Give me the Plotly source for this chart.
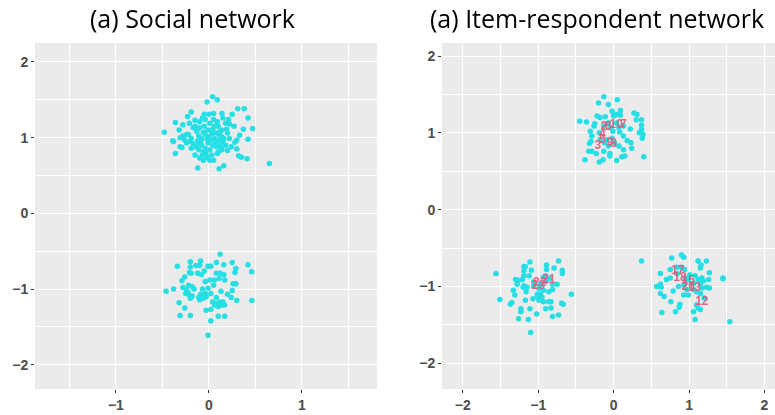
import plotly.graph_objects as go

# ---------------- data ----------------
# (a) Social network: respondent positions
social_x = [0.04, 0.09, -0.02, -0.19, 0.31, 0.38, -0.36, -0.48, -0.39, -0.36, 0.65, -0.12, 0.11, 0.16,
            0.42, 0.47, 0.42, 0.41, 0.35, 0.32, 0.30, 0.28, 0.37, 0.27, 0.22, 0.25, 0.14, 0.05, 0.0, -0.05,
            -0.07, -0.15, -0.23, -0.28, -0.32, -0.21, -0.28, -0.31, -0.31, -0.29, -0.24, -0.22, -0.19, -0.17,
            -0.14, -0.11, -0.15, -0.10, -0.06, -0.03, 0.01, 0.03, -0.04, -0.01, 0.02, 0.06, 0.10, 0.14, 0.12,
            0.08, 0.04, -0.01, -0.05, -0.10, -0.13, -0.11, -0.08, -0.04, 0.01, 0.05, 0.09, 0.18, 0.19, 0.20,
            0.15, 0.18, 0.20, 0.14, 0.10, 0.08, 0.12, -0.09, -0.19, -0.06, -0.03, -0.07, -0.11, 0.21, 0.15,
            -0.04, -0.10, -0.15, 0.06, 0.10, 0.14, -0.20, -0.24, -0.38, 0.22, 0.24, 0.30, 0.04, 0.01, -0.01, 0.05,
            -0.02, 0.07, -0.06, 0.11, 0.00, -0.12, 0.16, 0.03, -0.08, 0.09, -0.17, 0.13, 0.33, -0.26,
            # lower cluster
            0.12, -0.34, -0.20, -0.14, -0.09, -0.10, -0.05, -0.01, 0.02, 0.08, 0.16, 0.25, 0.29, 0.28, 0.42,
            0.46, -0.20, -0.21, -0.19, -0.26, -0.12, -0.08, -0.04, 0.01, 0.08, 0.12, 0.16, 0.11, 0.06, 0.17,
            0.26, 0.29, -0.29, -0.22, -0.18, -0.24, -0.22, -0.25, -0.28, -0.38, -0.46, -0.18, -0.20, -0.11,
            -0.07, -0.09, -0.04, -0.01, 0.02, -0.10, -0.06, -0.03, 0.08, 0.12, 0.15, 0.20, 0.25, 0.24, 0.30,
            0.46, -0.32, -0.26, -0.31, -0.20, -0.03, 0.02, 0.06, 0.10, 0.17, 0.10, 0.17, 0.02, -0.01, 0.08,
            0.04, 0.14, -0.23, -0.16, 0.05, 0.13]
social_y = [1.54, 1.50, 1.47, 1.34, 1.38, 1.38, 1.20, 1.07, 0.96, 0.79, 0.66, 0.60, 0.59, 0.63,
            1.26, 1.12, 0.98, 0.72, 0.74, 0.76, 0.85, 0.94, 1.11, 1.15, 1.18, 1.31, 1.32, 1.32, 1.31, 1.31,
            1.26, 1.23, 1.28, 1.17, 1.10, 1.19, 1.02, 1.00, 0.88, 0.87, 0.93, 1.04, 0.99, 0.92,
            0.88, 0.84, 0.77, 0.73, 0.70, 0.76, 0.70, 0.77, 0.86, 0.93, 0.97, 0.99, 0.97, 1.01, 1.08,
            1.06, 1.11, 1.10, 1.15, 1.13, 1.08, 1.02, 0.99, 1.04, 1.19, 1.24, 1.21, 1.19, 1.11, 1.06,
            0.95, 0.90, 0.83, 0.84, 0.81, 0.88, 0.90, 0.95, 0.86, 0.81, 0.81, 0.77, 0.93, 1.24, 1.26,
            1.24, 1.21, 1.15, 1.15, 1.15, 1.10, 0.95, 1.04, 0.95, 0.99, 0.88, 0.97, 0.90, 0.84, 0.73, 0.70,
            0.98, 0.92, 1.07, 1.04, 1.01, 0.96, 0.99, 1.05, 0.90, 0.79, 1.13, 0.87, 1.03, 0.97,
            # lower cluster
            -0.54, -0.70, -0.64, -0.69, -0.63, -0.69, -0.76, -0.70, -0.70, -0.65, -0.68, -0.65, -0.73, -0.78, -0.68,
            -0.77, -0.71, -0.78, -0.79, -0.84, -0.79, -0.81, -0.90, -0.88, -0.79, -0.79, -0.81, -0.86, -0.88, -0.88,
            -0.93, -0.93, -0.89, -0.95, -0.97, -1.01, -1.07, -1.06, -0.98, -1.00, -1.03, -1.09, -1.12, -1.11,
            -1.00, -1.07, -1.06, -0.99, -1.06, -1.14, -1.12, -1.10, -1.11, -1.17, -1.17, -1.07, -1.02, -1.11, -1.15,
            -1.15, -1.18, -1.25, -1.35, -1.35, -1.28, -1.27, -1.21, -1.23, -1.21, -1.36, -1.36, -1.42, -1.61, -1.19,
            -1.17, -1.21, -1.04, -1.00, -0.95, -1.03]

# (a) Item-respondent network: respondent positions
resp_x = [-0.13, -0.20, -0.07, 0.05, -0.45, -0.36, -0.25, -0.22, -0.18, -0.11, -0.02, 0.0, 0.09, 0.09,
          0.27, 0.31, 0.30, 0.37, 0.37, 0.37, 0.34, 0.39, 0.38, 0.22, -0.31, -0.29, -0.30, -0.32, -0.33,
          -0.29, -0.23, -0.38, -0.19, -0.13, -0.14, -0.05, -0.05, 0.04, 0.11, 0.15, 0.13, 0.24, 0.23, 0.18,
          0.13, 0.08, 0.07, 0.13, 0.04, -0.07, -0.13, -0.19, -0.18, -0.12, -0.09, -0.02, 0.01, 0.07, -0.07,
          0.40, -0.01, -0.04, 0.04, -0.26,
          # left cluster
          -1.56, -1.51, -1.11, -1.19, -1.17, -0.89, -0.73, -0.68, -0.68, -0.79, -0.89, -1.09, -1.19, -1.12,
          -1.19, -1.30, -1.21, -1.28, -1.19, -1.15, -1.20, -1.33, -1.31, -1.16, -1.26, -1.37, -1.35, -1.23,
          -1.23, -1.11, -1.17, -1.07, -1.26, -1.13, -1.02, -0.99, -1.01, -0.95, -0.93, -0.86, -0.83, -0.90,
          -0.83, -0.81, -0.73, -0.69, -0.67, -0.56, -0.75, -0.81, -0.86, -0.93, -0.99, -0.97, -0.90, -0.90,
          -0.85, -0.93, -1.06, -1.06, -0.81, -1.01, -0.97, -1.10,
          # right cluster
          0.37, 0.77, 0.90, 0.93, 1.12, 1.23, 1.16, 1.15, 1.27, 1.45, 1.45, 0.84, 0.90, 0.94, 0.75, 0.62,
          0.70, 0.62, 0.57, 0.63, 0.62, 0.67, 0.76, 0.79, 0.86, 0.88, 0.87, 0.64, 0.82, 0.93, 0.99, 1.06,
          1.12, 1.17, 1.19, 1.15, 1.26, 1.23, 1.27, 1.10, 1.15, 1.20, 1.10, 1.12, 1.15, 1.06, 1.08, 1.54,
          1.01, 1.08, 0.95, 0.99, 0.75, 0.84, 1.06, 0.97, 0.93, 1.17]
resp_y = [1.47, 1.39, 1.37, 1.43, 1.15, 1.14, 1.12, 1.22, 1.20, 1.21, 1.28, 1.22, 1.29, 1.23,
          1.26, 1.24, 1.17, 1.17, 1.10, 1.04, 1.00, 0.98, 0.93, 1.05, 1.02, 0.96, 0.89, 0.86, 0.76,
          0.76, 0.73, 0.65, 0.62, 0.76, 0.65, 0.73, 0.70, 0.64, 0.69, 0.70, 0.78, 0.80, 0.87, 0.90,
          0.96, 1.01, 1.07, 1.09, 1.13, 1.13, 1.09, 1.00, 0.91, 0.87, 0.91, 0.93, 0.87, 0.83, 0.83,
          0.69, 1.02, 1.07, 1.24, 1.09,
          # left cluster
          -0.83, -1.17, -0.68, -0.74, -0.74, -0.72, -0.67, -0.79, -0.83, -0.76, -0.78, -0.79, -0.80, -0.86,
          -0.86, -0.91, -0.91, -0.97, -0.99, -1.01, -1.01, -1.05, -1.11, -1.07, -0.92, -1.23, -1.21, -1.29,
          -1.33, -1.29, -1.18, -1.16, -1.42, -1.43, -1.36, -1.18, -1.10, -1.14, -1.20, -1.20, -1.20, -1.29,
          -1.28, -1.39, -1.37, -1.22, -1.23, -1.10, -0.97, -1.04, -1.07, -1.05, -1.03, -0.97, -0.94, -0.86,
          -0.90, -0.88, -0.94, -0.99, -0.97, -1.13, -1.10, -1.60,
          # right cluster
          -0.67, -0.63, -0.59, -0.62, -0.67, -0.67, -0.72, -0.76, -0.82, -0.89, -0.90, -0.75, -0.75, -0.78,
          -0.78, -0.83, -0.91, -0.97, -1.00, -1.01, -1.09, -1.13, -1.20, -1.06, -1.00, -1.23, -1.27, -1.34,
          -1.33, -1.11, -1.11, -0.96, -0.91, -0.89, -0.93, -0.96, -0.91, -1.01, -1.02, -1.07, -1.09, -1.15,
          -1.24, -1.28, -1.30, -1.33, -1.43, -1.46, -0.85, -0.86, -0.89, -0.91, -0.89, -0.83, -1.04, -1.04,
          -0.98, -1.02]

# item positions and labels
item_labels = ["2", "6", "10", "7", "4", "5", "3", "9", "8",
               "21", "22", "23",
               "17", "18", "15", "26", "13", "12"]
item_x = [-0.13, -0.07, 0.035, 0.13, -0.15, -0.15, -0.21, -0.05, 0.0,
          -0.86, -0.98, -1.0,
          0.85, 0.88, 0.99, 0.99, 1.07, 1.17]
item_y = [1.07, 1.07, 1.10, 1.10, 0.97, 0.91, 0.83, 0.87, 0.86,
          -0.92, -0.95, -0.99,
          -0.80, -0.89, -0.93, -1.01, -1.02, -1.20]

panel_titles = ["(a) Social network", "(a) Item-respondent network"]
tick_vals = [-2, -1, 0, 1, 2]

# ---------------- figure ----------------
PT_COLOR = "#25DFE5"
LBL_COLOR = "#E0577A"
W, H = 775, 415

fig = go.Figure()
fig.add_trace(go.Scatter(x=social_x, y=social_y, mode="markers", xaxis="x", yaxis="y",
                         marker=dict(color=PT_COLOR, size=5.5, line=dict(width=0)),
                         showlegend=False, hoverinfo="skip"))
fig.add_trace(go.Scatter(x=resp_x, y=resp_y, mode="markers", xaxis="x2", yaxis="y2",
                         marker=dict(color=PT_COLOR, size=5.5, line=dict(width=0)),
                         showlegend=False, hoverinfo="skip"))
fig.add_trace(go.Scatter(x=item_x, y=item_y, mode="text", text=item_labels, xaxis="x2", yaxis="y2",
                         textfont=dict(family="Liberation Sans", size=12, color=LBL_COLOR, weight="bold"),
                         opacity=0.9, showlegend=False, hoverinfo="skip"))

ydom = [26 / H, 372 / H]
axis_common = dict(
    showgrid=True, gridcolor="white", gridwidth=1.3, zeroline=False, showline=False,
    ticks="outside", ticklen=3, tickwidth=1, tickcolor="#333333",
    tickvals=tick_vals,
    tickfont=dict(family="Liberation Sans", size=14, color="#4D4D4D", weight="bold"),
    minor=dict(dtick=0.5, tick0=0.5, showgrid=True, gridcolor="white", gridwidth=0.7, ticks=""),
    fixedrange=True,
)
fig.update_layout(
    width=W, height=H,
    margin=dict(l=0, r=0, t=0, b=0),
    paper_bgcolor="white",
    plot_bgcolor="#EBEBEB",
    xaxis=dict(domain=[35 / W, 377 / W], range=[-1.87, 1.807], anchor="y", **axis_common),
    yaxis=dict(domain=ydom, range=[-2.32, 2.25], anchor="x", **axis_common),
    xaxis2=dict(domain=[442 / W, 1.0], range=[-2.276, 2.14], anchor="y2", **axis_common),
    yaxis2=dict(domain=ydom, range=[-2.335, 2.17], anchor="x2", **axis_common),
    annotations=[
        dict(text=panel_titles[0], x=192 / W, y=1 - 18 / H, xref="paper", yref="paper",
             showarrow=False, xanchor="center", yanchor="middle",
             font=dict(family="Open Sans", size=25, color="black")),
        dict(text=panel_titles[1], x=597 / W, y=1 - 18 / H, xref="paper", yref="paper",
             showarrow=False, xanchor="center", yanchor="middle",
             font=dict(family="Open Sans", size=25, color="black")),
    ],
)
fig.write_html("out.html", config={"displayModeBar": False},
               post_script="document.body.style.margin='0';document.body.style.padding='0';")
